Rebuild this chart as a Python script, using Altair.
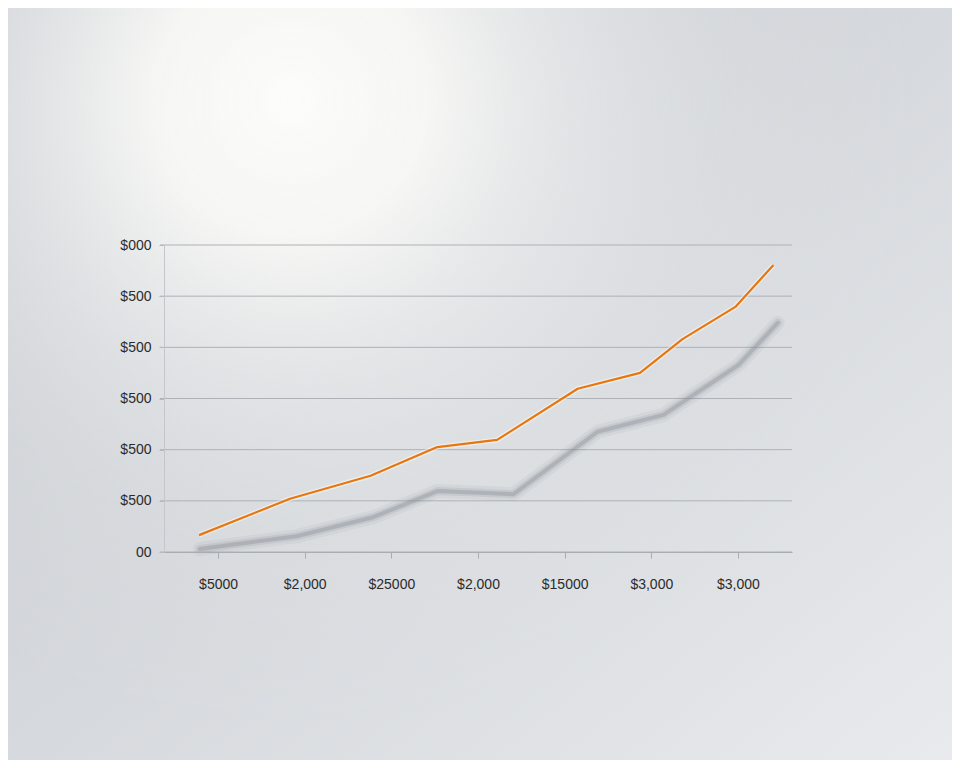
import altair as alt
import pandas as pd

# ---- data ----
x_tick_labels = ["$5000", "$2,000", "$25000", "$2,000", "$15000", "$3,000", "$3,000"]
y_tick_labels = ["00", "$500", "$500", "$500", "$500", "$500", "$000"]

orange_x = [0.78, 1.83, 2.76, 3.53, 4.22, 5.15, 5.87, 6.36, 6.97, 7.41]
orange_y = [0.33, 1.04, 1.49, 2.05, 2.19, 3.19, 3.50, 4.16, 4.79, 5.61]

shadow_x = [0.79, 1.91, 2.79, 3.53, 4.41, 5.38, 6.14, 7.01, 7.46]
shadow_y = [0.06, 0.31, 0.68, 1.19, 1.13, 2.35, 2.68, 3.66, 4.48]

orange = pd.DataFrame({"x": orange_x, "y": orange_y, "o": range(len(orange_x))})
shadow = pd.DataFrame({"x": shadow_x, "y": shadow_y, "o": range(len(shadow_x))})
grid = pd.DataFrame({"y": list(range(len(y_tick_labels)))})
one = pd.DataFrame({"a": [0]})

x_ticks = list(range(1, len(x_tick_labels) + 1))
y_ticks = list(range(len(y_tick_labels)))

x_expr = "[" + ",".join("'" + s + "'" for s in x_tick_labels) + "][datum.value-1]"
y_expr = "[" + ",".join("'" + s + "'" for s in y_tick_labels) + "][datum.value]"

xscale = alt.Scale(domain=[0.376, 7.624], nice=False, zero=False)
yscale = alt.Scale(domain=[0, 6], nice=False, zero=True)

x_axis = alt.Axis(values=x_ticks, labelExpr=x_expr, title=None, grid=False,
                  domain=True, domainColor="#a9acb1", tickColor="#a9acb1",
                  tickSize=6, labelPadding=19, labelFontSize=14,
                  labelFont="Liberation Sans", labelColor="#2b2b2b", zindex=1)
y_axis = alt.Axis(values=y_ticks, labelExpr=y_expr, title=None, grid=False,
                  domain=True, domainColor="#c3c6ca", tickColor="#b5b8bc",
                  tickSize=5, labelPadding=8, labelFontSize=14,
                  labelFont="Liberation Sans", labelColor="#2b2b2b", zindex=1)

def X():
    return alt.X("x:Q", scale=xscale, axis=x_axis)

def Y(field="y:Q"):
    return alt.Y(field, scale=yscale, axis=y_axis)

W, H = 628, 307
PL, PT, PR, PB = 156, 237, 160, 208

# background (whole canvas)
bg_base = alt.Chart(one).mark_rect(
    fill={"gradient": "linear", "x1": 0, "y1": 0, "x2": 1, "y2": 1,
          "stops": [{"offset": 0, "color": "#c4c8cd"},
                    {"offset": 0.5, "color": "#d6d9dd"},
                    {"offset": 1, "color": "#e8eaed"}]}
).encode(x=alt.value(-PL), x2=alt.value(W + PR), y=alt.value(-PT), y2=alt.value(H + PB))

bg_glow = alt.Chart(one).mark_rect(
    fill={"gradient": "radial", "x1": 0.3, "y1": 0.2, "r1": 0, "x2": 0.3, "y2": 0.2, "r2": 0.66,
          "stops": [{"offset": 0, "color": "rgba(252,252,250,1)"},
                    {"offset": 0.22, "color": "rgba(248,248,246,0.95)"},
                    {"offset": 0.44, "color": "rgba(238,239,239,0.6)"},
                    {"offset": 0.7, "color": "rgba(228,230,232,0.25)"},
                    {"offset": 1, "color": "rgba(220,222,226,0)"}]}
).encode(x=alt.value(-PL), x2=alt.value(W + PR), y=alt.value(-PT), y2=alt.value(H + PB))

gridlines = alt.Chart(grid).mark_rule(color="#aeb1b6", strokeWidth=1).encode(
    y=Y(), x=alt.value(-4), x2=alt.value(W),
)

shadow_wide = alt.Chart(shadow).mark_line(
    color="#8a8f96", strokeWidth=14, opacity=0.10, strokeCap="round", strokeJoin="round"
).encode(x=X(), y=Y(), order="o:Q")

shadow_mid = alt.Chart(shadow).mark_line(
    color="#8a8f96", strokeWidth=8, opacity=0.18, strokeCap="round", strokeJoin="round"
).encode(x=X(), y=Y(), order="o:Q")

shadow_core = alt.Chart(shadow).mark_line(
    color="#858a92", strokeWidth=4, opacity=0.35, strokeCap="round", strokeJoin="round"
).encode(x=X(), y=Y(), order="o:Q")

orange_halo = alt.Chart(orange).mark_line(
    color="#ffffff", strokeWidth=5, opacity=0.45, strokeJoin="round"
).encode(x=X(), y=Y(), order="o:Q")

orange_line = alt.Chart(orange).mark_line(
    color="#e8760c", strokeWidth=2.2, strokeJoin="round"
).encode(x=X(), y=Y(), order="o:Q")

chart = alt.layer(
    bg_base, bg_glow, gridlines, shadow_wide, shadow_mid, shadow_core, orange_halo, orange_line
).properties(
    width=W, height=H,
    padding={"left": PL, "top": PT, "right": PR, "bottom": PB},
    autosize="none",
    background="#cfd2d6",
).configure_view(stroke=None)

chart.save("out.html", embed_options={"renderer": "svg", "actions": False})
